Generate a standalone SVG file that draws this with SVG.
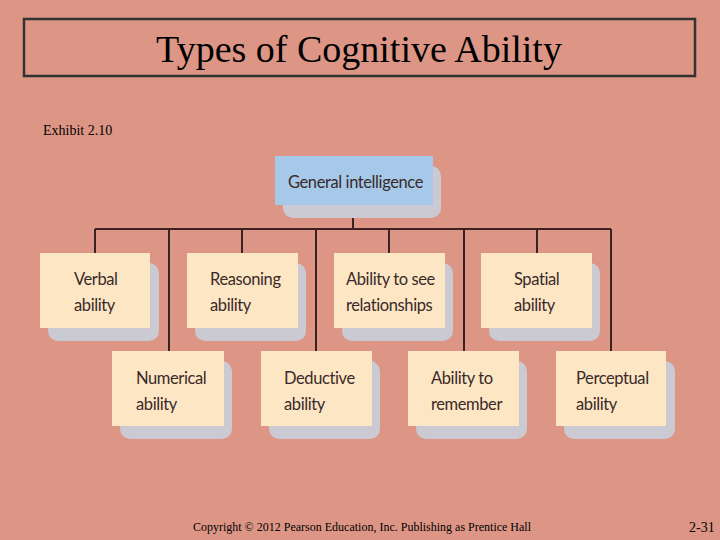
<svg xmlns="http://www.w3.org/2000/svg" width="720" height="540" viewBox="0 0 720 540">
<style>
.n{fill:#fde6c3}.g{fill:#a7c9e9}.sh{fill:#cbc9d2}
.t{font-family:Lato,"Open Sans",sans-serif;font-size:16.5px;letter-spacing:-0.4px;fill:#3a2a2a}
.c{stroke:#3a2222;stroke-width:2;fill:none}
.s{font-family:"Liberation Serif",serif;fill:#000}
</style>
<rect width="720" height="540" fill="#dd9686"/>
<rect x="24" y="19" width="671" height="57" fill="none" stroke="#333" stroke-width="2.5"/>
<text class="s" x="359" y="62" font-size="38" text-anchor="middle">Types of Cognitive Ability</text>
<text class="s" x="43" y="135" font-size="14">Exhibit 2.10</text>
<g id="connectors" class="c">
<path d="M353 205V229M95 229H611M95 229V253M242 229V253M389 229V253M537 229V253M169 229V351M316 229V351M464 229V351M611 229V351"/>
</g>
<g id="general"><rect class="sh" x="283" y="166" width="158" height="52" rx="10"/><rect class="g" x="275" y="156" width="158" height="49"/><text class="t" x="288" y="188">General intelligence</text></g>
<g id="verbal"><rect class="sh" x="48" y="263" width="111" height="78" rx="10"/><rect class="n" x="40" y="253" width="110" height="75"/><text class="t" x="74" y="285">Verbal</text><text class="t" x="74" y="311">ability</text></g>
<g id="reasoning"><rect class="sh" x="195" y="263" width="111" height="78" rx="10"/><rect class="n" x="187" y="253" width="111" height="75"/><text class="t" x="210" y="285">Reasoning</text><text class="t" x="210" y="311">ability</text></g>
<g id="relationships"><rect class="sh" x="342" y="263" width="111" height="78" rx="10"/><rect class="n" x="334" y="253" width="111" height="75"/><text class="t" x="346" y="285">Ability to see</text><text class="t" x="346" y="311">relationships</text></g>
<g id="spatial"><rect class="sh" x="489" y="263" width="111" height="78" rx="10"/><rect class="n" x="481" y="253" width="111" height="75"/><text class="t" x="514" y="285">Spatial</text><text class="t" x="514" y="311">ability</text></g>
<g id="numerical"><rect class="sh" x="120" y="361" width="112" height="78" rx="10"/><rect class="n" x="112" y="351" width="112" height="75"/><text class="t" x="136" y="384">Numerical</text><text class="t" x="136" y="410">ability</text></g>
<g id="deductive"><rect class="sh" x="269" y="361" width="111" height="78" rx="10"/><rect class="n" x="261" y="351" width="111" height="75"/><text class="t" x="284" y="384">Deductive</text><text class="t" x="284" y="410">ability</text></g>
<g id="remember"><rect class="sh" x="416" y="361" width="111" height="78" rx="10"/><rect class="n" x="408" y="351" width="111" height="75"/><text class="t" x="431" y="384">Ability to</text><text class="t" x="431" y="410">remember</text></g>
<g id="perceptual"><rect class="sh" x="564" y="361" width="111" height="78" rx="10"/><rect class="n" x="556" y="351" width="110" height="75"/><text class="t" x="576" y="384">Perceptual</text><text class="t" x="576" y="410">ability</text></g>
<text class="s" x="362" y="531" font-size="12" text-anchor="middle">Copyright © 2012 Pearson Education, Inc. Publishing as Prentice Hall</text>
<text class="s" x="689" y="532" font-size="14">2-31</text>
</svg>
